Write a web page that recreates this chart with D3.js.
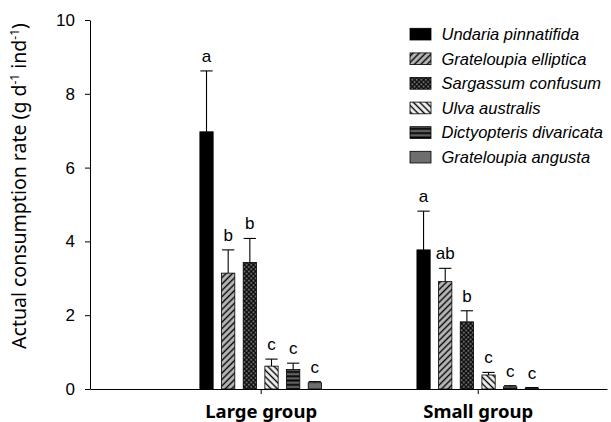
<!DOCTYPE html>
<html>
<head>
<meta charset="utf-8">
<script src="https://cdn.jsdelivr.net/npm/d3@7"></script>
<style>
  html, body { margin: 0; padding: 0; background: #fff; }
  svg { display: block; }
</style>
</head>
<body>
<div id="chart"></div>
<script>
// dati
const groups = ["Large group", "Small group"];
const species = ["Undaria pinnatifida", "Grateloupia elliptica", "Sargassum confusum",
                 "Ulva australis", "Dictyopteris divaricata", "Grateloupia angusta"];
const largeMeans = [6.97, 3.14, 3.43, 0.62, 0.53, 0.17];
const largeErr = [1.65, 0.63, 0.65, 0.19, 0.17, 0.03];
const smallMeans = [3.77, 2.91, 1.82, 0.38, 0.06, 0.03];
const smallErr = [1.05, 0.36, 0.30, 0.07, 0.03, 0.01];
const largeLetters = ["a", "b", "b", "c", "c", "c"];
const smallLetters = ["a", "ab", "b", "c", "c", "c"];
const yTicks = [0, 2, 4, 6, 8, 10];

const W = 611, H = 422;
const fills = ["#000", "url(#p-diag)", "url(#p-cross)", "url(#p-back)", "url(#p-horiz)", "#6e6e6e"];

const svg = d3.select("#chart").append("svg")
    .attr("width", W).attr("height", H);

// --- pattern di riempimento ---
const defs = svg.append("defs");

function hatch(id, bg, angle, size, sw, cross) {
    const p = defs.append("pattern")
        .attr("id", id)
        .attr("patternUnits", "userSpaceOnUse")
        .attr("width", size).attr("height", size)
        .attr("patternTransform", angle ? `rotate(${angle})` : null);
    p.append("rect").attr("width", size).attr("height", size).attr("fill", bg);
    if (angle === 0) {
        p.append("line").attr("x1", 0).attr("y1", size / 2).attr("x2", size).attr("y2", size / 2)
            .attr("stroke", "#000").attr("stroke-width", sw);
    } else {
        p.append("line").attr("x1", size / 2).attr("y1", 0).attr("x2", size / 2).attr("y2", size)
            .attr("stroke", "#000").attr("stroke-width", sw);
        if (cross) {
            p.append("line").attr("x1", 0).attr("y1", size / 2).attr("x2", size).attr("y2", size / 2)
                .attr("stroke", "#000").attr("stroke-width", sw);
        }
    }
}
hatch("p-diag", "#b8b8b8", 45, 4.5, 1.4, false);
hatch("p-cross", "#6a6a6a", 45, 3.2, 1.1, true);
hatch("p-back", "#f4f4f4", -45, 4.5, 1.4, false);
hatch("p-horiz", "#606060", 0, 4.3, 1.8, false);

// --- scale ---
const x0 = d3.scalePoint().domain(groups).range([90, 607]).padding(0.691).align(0.569);
const x1 = d3.scaleBand().domain(species).range([-60.8, 60.8]).paddingInner(0.387);
const y = d3.scaleLinear().domain([0, 10]).range([389, 20]);

const data = [];
groups.forEach((g, gi) => {
    const means = gi === 0 ? largeMeans : smallMeans;
    const errs = gi === 0 ? largeErr : smallErr;
    const letters = gi === 0 ? largeLetters : smallLetters;
    species.forEach((s, i) => {
        data.push({ group: g, sp: s, idx: i, v: means[i], e: errs[i], lab: letters[i] });
    });
});

const bw = x1.bandwidth();
const bx = d => x0(d.group) + x1(d.sp);

// --- barre d'errore ---
const err = svg.append("g").attr("stroke", "#000").attr("stroke-width", 1.1);
err.selectAll("line.v").data(data).join("line").attr("class", "v")
    .attr("x1", d => bx(d) + bw / 2).attr("x2", d => bx(d) + bw / 2)
    .attr("y1", d => y(d.v)).attr("y2", d => y(d.v + d.e));
err.selectAll("line.c").data(data).join("line").attr("class", "c")
    .attr("x1", d => bx(d) + 0.5).attr("x2", d => bx(d) + bw - 0.5)
    .attr("y1", d => y(d.v + d.e)).attr("y2", d => y(d.v + d.e));

// --- barre ---
svg.append("g").selectAll("rect").data(data).join("rect")
    .attr("x", d => bx(d)).attr("width", bw)
    .attr("y", d => y(d.v)).attr("height", d => y(0) - y(d.v))
    .attr("fill", d => fills[d.idx])
    .attr("stroke", "#000").attr("stroke-width", 0.8);

// --- lettere di significatività ---
svg.append("g").selectAll("text").data(data).join("text")
    .attr("x", d => bx(d) + bw / 2)
    .attr("y", d => y(d.v + d.e) - 9)
    .attr("text-anchor", "middle")
    .style("font-family", "'Liberation Sans', Arial, sans-serif")
    .style("font-size", "17px")
    .text(d => d.lab);

// --- assi ---
const yAxis = svg.append("g").attr("transform", "translate(90,0)")
    .call(d3.axisLeft(y).tickValues(yTicks).tickSize(5).tickPadding(10).tickSizeOuter(0));
yAxis.select(".domain").attr("stroke", "#000");
yAxis.selectAll("text")
    .style("font-family", "'Liberation Sans', Arial, sans-serif")
    .style("font-size", "17px").attr("fill", "#000");

const xAxis = svg.append("g").attr("transform", "translate(0,389)")
    .call(d3.axisBottom(x0).tickSize(5).tickSizeOuter(0).tickPadding(11));
xAxis.selectAll("text")
    .style("font-family", "'Noto Sans', sans-serif")
    .style("font-size", "18.5px").style("font-weight", "bold")
    .attr("fill", "#000");

// titolo asse y con apici
const yt = svg.append("text")
    .attr("transform", "translate(26,186) rotate(-90)")
    .attr("text-anchor", "middle")
    .style("font-family", "'Noto Sans', sans-serif")
    .style("font-size", "19.5px");
yt.append("tspan").text("Actual consumption rate (g d");
yt.append("tspan").attr("dy", -7).style("font-size", "12px").text("-1");
yt.append("tspan").attr("dy", 7).text(" ind");
yt.append("tspan").attr("dy", -7).style("font-size", "12px").text("-1");
yt.append("tspan").attr("dy", 7).text(")");

// --- legenda ---
const leg = svg.append("g").attr("transform", "translate(410,28.3)");
const row = leg.selectAll("g").data(species).join("g")
    .attr("transform", (d, i) => `translate(0,${i * 24.6})`);
row.append("rect").attr("width", 21).attr("height", 11.7)
    .attr("fill", (d, i) => fills[i])
    .attr("stroke", "#000").attr("stroke-width", 0.8);
row.append("text").attr("x", 31.5).attr("y", 11.7)
    .style("font-family", "'Liberation Sans', Arial, sans-serif")
    .style("font-size", "16.5px").style("font-style", "italic")
    .text(d => d);
</script>
</body>
</html>
